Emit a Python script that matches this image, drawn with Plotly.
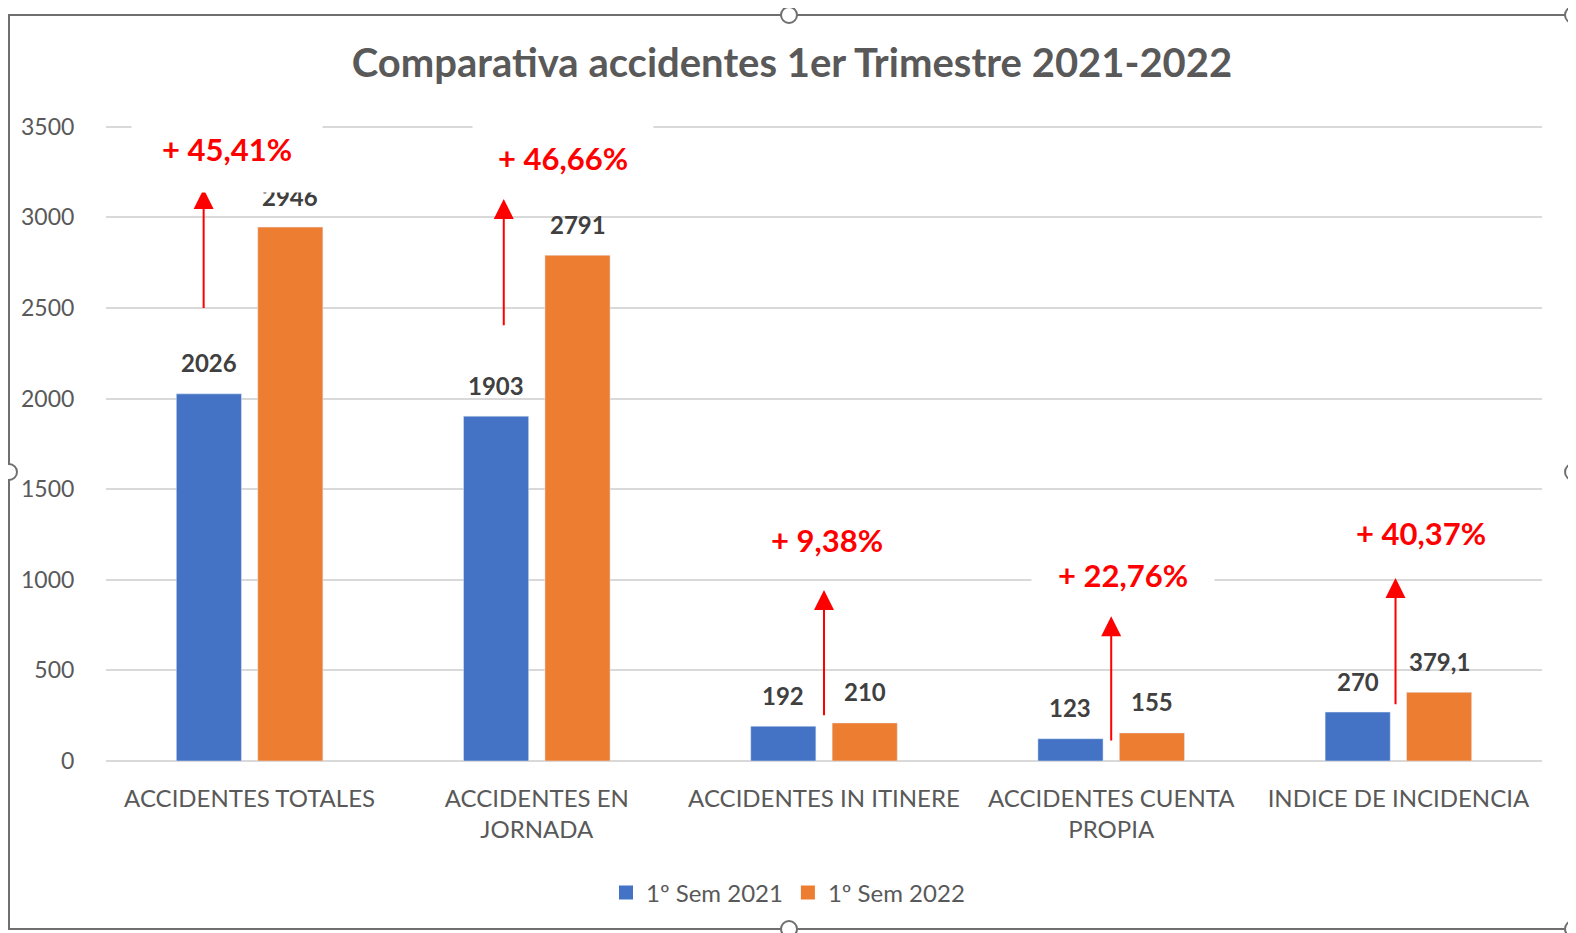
import plotly.graph_objects as go

# ---------------- data ----------------
categories = ["ACCIDENTES TOTALES", "ACCIDENTES EN<br>JORNADA", "ACCIDENTES IN ITINERE",
              "ACCIDENTES CUENTA<br>PROPIA", "INDICE DE INCIDENCIA"]
series_2021_name = "1º Sem 2021"
series_2022_name = "1º Sem 2022"
values_2021 = [2026, 1903, 192, 123, 270]
values_2022 = [2946, 2791, 210, 155, 379.1]
pct_labels = ["+ 45,41%", "+ 46,66%", "+ 9,38%", "+ 22,76%", "+ 40,37%"]
y_ticks = [0, 500, 1000, 1500, 2000, 2500, 3000, 3500]

# annotation placement (layout, in axis units)
pct_pos_x = [-0.08, 1.09, 2.01, 3.04, 4.08]
pct_pos_y = [3378, 3328, 1220, 1026, 1259]
pct_box_w = [188, 178, 150, 180, 170]
pct_box_h = [84, 70, 40, 40, 40]
arrow_x = [-0.16, 0.885, 2.0, 3.0, 3.99]
arrow_from = [2491, 2396, 244, 105, 305]
arrow_to = [3156, 3101, 943, 799, 1010]

BLUE = "#4472C4"
ORANGE = "#ED7D31"
FONT = "Lato"
BARGAP = 0.433
BARGROUPGAP = 0.2
Y_MAX = 3515

def fmt(v):
    return ("%g" % v).replace(".", ",")

xs = list(range(len(categories)))

# page has an 8px body margin: figure pixel = page pixel - 8
W, H = 1568, 925
L, R, T, B = 98, 1534, 116, 753

def px(x):
    return (x - L) / (R - L)

def py(y):
    return (B - y) / (B - T)

fig = go.Figure()
fig.add_trace(go.Bar(x=xs, y=values_2021, name=series_2021_name, marker_color=BLUE, showlegend=False))
fig.add_trace(go.Bar(x=xs, y=values_2022, name=series_2022_name, marker_color=ORANGE, showlegend=False))
# legend entries
for nm, col in [(series_2021_name, BLUE), (series_2022_name, ORANGE)]:
    fig.add_trace(go.Scatter(x=[None], y=[None], name=nm, mode="markers",
                             marker=dict(symbol="square", size=14, color=col)))

annotations = []
# data labels, placed above each bar of the group
off = (1 - BARGAP) / 4
for vals, sign in [(values_2021, -1), (values_2022, 1)]:
    for i, v in enumerate(vals):
        annotations.append(dict(
            x=i + sign * off, y=v, xref="x", yref="y", text=fmt(v), showarrow=False,
            yanchor="middle", yshift=31,
            font=dict(family=FONT, size=24, color="#404040", weight="bold"),
        ))
for i in range(len(categories)):
    annotations.append(dict(
        x=arrow_x[i], y=arrow_to[i], ax=arrow_x[i], ay=arrow_from[i],
        xref="x", yref="y", axref="x", ayref="y", text="", showarrow=True,
        arrowhead=2, arrowsize=2, arrowwidth=2, arrowcolor="#FF0000", standoff=0,
    ))
for i in range(len(categories)):
    annotations.append(dict(
        x=pct_pos_x[i], y=pct_pos_y[i], xref="x", yref="y", text=pct_labels[i],
        showarrow=False, bgcolor="white", width=pct_box_w[i], height=pct_box_h[i],
        font=dict(family=FONT, size=31, color="#FF0000", weight="bold"),
    ))

# frame of the chart object with its sizing handles
FX0, FX1, FY0, FY1 = 1, 1565, 7, 921
shapes = [dict(type="rect", xref="paper", yref="paper",
               x0=px(FX0), x1=px(FX1), y0=py(FY0), y1=py(FY1),
               line=dict(color="#6f6f6f", width=2), fillcolor="rgba(0,0,0,0)", layer="above")]
r = 8
cx = (FX0 + FX1) / 2 - 2
cy = (FY0 + FY1) / 2
for (hx, hy) in [(cx, FY0), (FX0, cy), (FX1, cy), (cx, FY1), (FX1, FY0), (FX1, FY1)]:
    shapes.append(dict(type="circle", xref="paper", yref="paper",
                       x0=px(hx - r), x1=px(hx + r), y0=py(hy + r), y1=py(hy - r),
                       line=dict(color="#6f6f6f", width=2), fillcolor="white", layer="above"))

fig.update_layout(
    width=W, height=H,
    margin=dict(l=L, r=W - R, t=T, b=H - B),
    paper_bgcolor="white", plot_bgcolor="white",
    barmode="group", bargap=BARGAP, bargroupgap=BARGROUPGAP,
    title=dict(text="<b>Comparativa accidentes 1er Trimestre 2021-2022</b>",
               x=0.5, xref="container", xanchor="center",
               y=1 - 55 / H, yref="container", yanchor="middle",
               font=dict(family=FONT, size=40, color="#595959")),
    xaxis=dict(tickvals=xs, ticktext=categories, tickangle=0, range=[-0.5, 4.5],
               showgrid=False, zeroline=False, showline=False,
               ticks="outside", ticklen=16, tickcolor="rgba(0,0,0,0)",
               tickfont=dict(family=FONT, size=24, color="#595959")),
    yaxis=dict(range=[0, Y_MAX], tickvals=y_ticks, showgrid=True, gridcolor="#d9d9d9", gridwidth=1.5,
               zeroline=True, zerolinecolor="#d9d9d9", zerolinewidth=1.5, showline=False,
               ticks="outside", ticklen=26, tickcolor="rgba(0,0,0,0)",
               tickfont=dict(family=FONT, size=23, color="#595959")),
    legend=dict(orientation="h", x=px(780), xanchor="center", y=py(885), yanchor="middle",
                font=dict(family=FONT, size=24, color="#595959"), itemsizing="trace",
                itemwidth=30, tracegroupgap=0),
    annotations=annotations, shapes=shapes,
)

fig.write_html("out.html")
